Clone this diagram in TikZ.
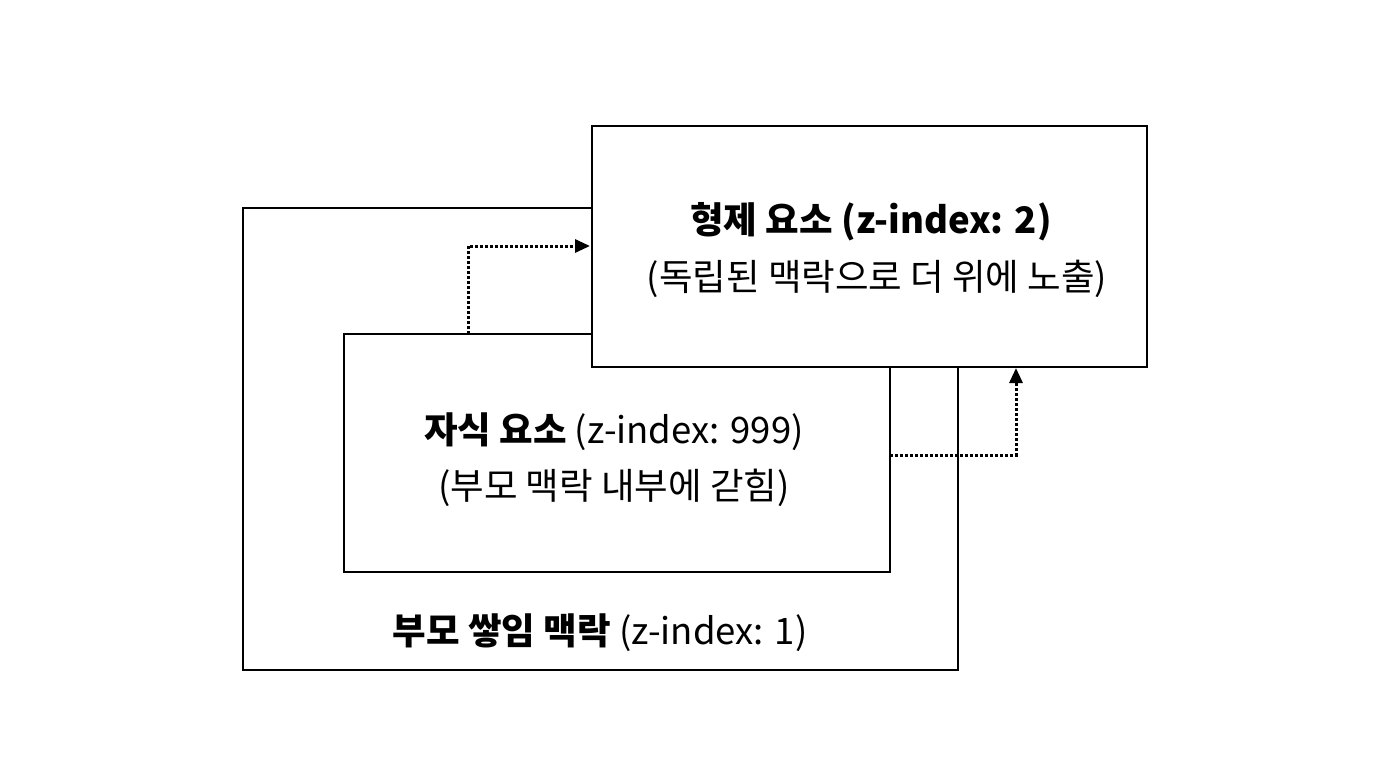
\documentclass[tikz,border=0pt]{standalone}
\usepackage{fontspec}
\setmainfont{Noto Sans CJK KR}
\usetikzlibrary{arrows.meta}
\tikzset{every picture/.style={line width=2.5pt}}
\tikzset{
  box/.style={draw=black, fill=white},
  lbl/.style={font=\fontsize{36.5}{44}\selectfont, align=center},
  link/.style={dotted, line width=3pt, -{Triangle[length=15pt,width=13pt]}}
}
\begin{document}
\begin{tikzpicture}[x=1pt,y=-1pt]
	\useasboundingbox (0,0) rectangle (1376,768);

	%Parent context
	\draw [box] (243,208) rectangle (958,670);
	%Child element
	\draw [box] (344,334) rectangle (890,572);
	%Sibling element
	\draw [box] (592,126) rectangle (1147,367);

	%Dotted links
	\coordinate (cTop) at (468,334);
	\coordinate (sLeft) at (590,246);
	\draw [link] (cTop) |- (sLeft);
	\coordinate (cRight) at (890,455);
	\coordinate (sBottom) at (1016,368);
	\draw [link] (cRight) -| (sBottom);

	% Text Node
	\node [lbl] (sib) at (871,222) {\textbf{형제 요소 (z-index: 2)}};
	% Text Node
	\node [lbl] (sibnote) at (877,279) {(독립된 맥락으로 더 위에 노출)};
	% Text Node
	\node [lbl] (chi) at (614,432) {\textbf{자식 요소} (z-index: 999)};
	% Text Node
	\node [lbl] (chinote) at (614,488) {(부모 맥락 내부에 갇힘)};
	% Text Node
	\node [lbl] (par) at (600,633) {\textbf{부모 쌓임 맥락} (z-index: 1)};
\end{tikzpicture}
\end{document}
